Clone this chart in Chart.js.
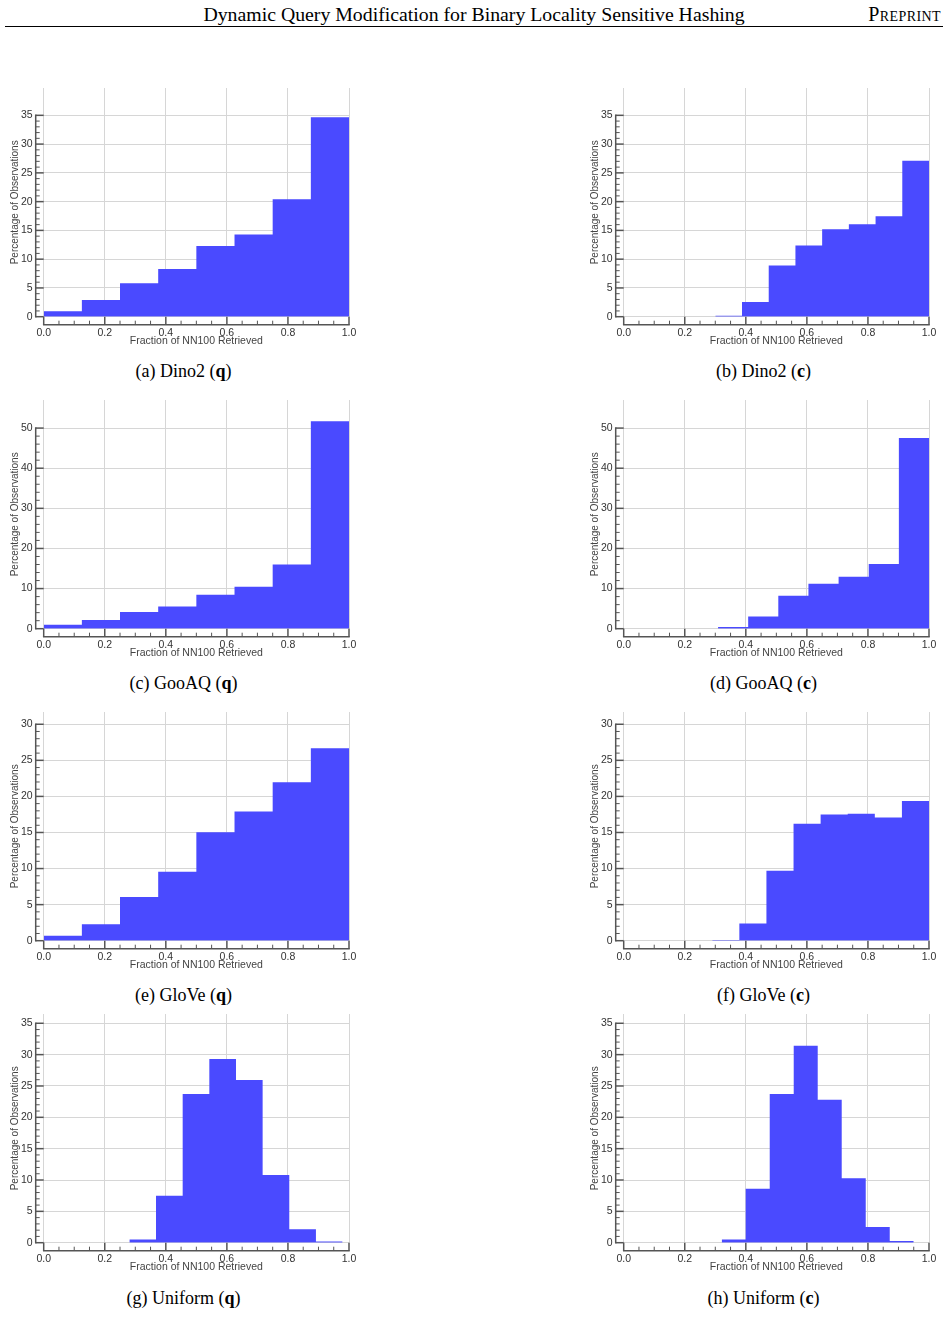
<!DOCTYPE html>
<html>
<head>
<meta charset="utf-8">
<script src="https://cdn.jsdelivr.net/npm/chart.js@4.4.1/dist/chart.umd.min.js"></script>
<style>
  body { margin: 0; background: #fff; }
  #page { position: relative; width: 948px; height: 1325px; overflow: hidden; }
  .hdr { position: absolute; top: 1px; left: 0; width: 948px; text-align: center;
         font-family: 'Liberation Serif', serif; font-size: 19.8px; line-height: 26px; color: #000; }
  .pre { position: absolute; top: 1px; right: 7px; font-family: 'Liberation Serif', serif;
         font-size: 20px; line-height: 26px; font-variant: small-caps; letter-spacing: 0.4px; }
  .rule { position: absolute; top: 26px; left: 5px; width: 938px; height: 1px; background: #000; }
  .cap { position: absolute; width: 360px; text-align: center; font-family: 'Liberation Serif', serif;
         font-size: 18px; line-height: 20px; color: #000; }
  canvas { position: absolute; }
</style>
</head>
<body>
<div id="page">
  <div class="hdr">Dynamic Query Modification for Binary Locality Sensitive Hashing</div>
  <div class="pre">Preprint</div>
  <div class="rule"></div>
</div>
<script>
// bin edges and percentages
const eighthEdges = [0, 0.125, 0.25, 0.375, 0.5, 0.625, 0.75, 0.875, 1.0];

const dino2QValues = [0.93, 2.9, 5.8, 8.3, 12.3, 14.3, 20.4, 34.65];
const dino2CEdges = [0.3, 0.3875, 0.475, 0.5625, 0.65, 0.7375, 0.825, 0.9125, 1.0];
const dino2CValues = [0.17, 2.55, 8.88, 12.36, 15.2, 16.08, 17.47, 27.1];

const gooaqQValues = [1.0, 2.16, 4.15, 5.56, 8.47, 10.47, 16.0, 51.7];
const gooaqCEdges = [0.309, 0.4077, 0.5064, 0.6051, 0.7039, 0.8026, 0.9013, 1.0];
const gooaqCValues = [0.4, 3.07, 8.22, 11.2, 12.96, 16.1, 47.5];

const gloveQValues = [0.69, 2.27, 6.06, 9.57, 15.03, 17.9, 21.96, 26.68];
const gloveCEdges = [0.29, 0.3788, 0.4675, 0.5563, 0.645, 0.7338, 0.8225, 0.9113, 1.0];
const gloveCValues = [0.09, 2.4, 9.7, 16.2, 17.5, 17.6, 17.06, 19.37];

const uniformQEdges = [0.2806, 0.3679, 0.4552, 0.5425, 0.6298, 0.7171, 0.8044, 0.8917, 0.979];
const uniformQValues = [0.53, 7.5, 23.7, 29.3, 25.96, 10.8, 2.13, 0.2];
const uniformCEdges = [0.321, 0.3996, 0.4783, 0.5569, 0.6355, 0.7141, 0.7928, 0.8714, 0.95];
const uniformCValues = [0.53, 8.6, 23.7, 31.4, 22.8, 10.27, 2.5, 0.27];

const xTicks = [0, 0.2, 0.4, 0.6, 0.8, 1.0];
const dinoTicks = [0, 5, 10, 15, 20, 25, 30, 35];
const gooaqTicks = [0, 10, 20, 30, 40, 50];
const gloveTicks = [0, 5, 10, 15, 20, 25, 30];
const uniformTicks = [0, 5, 10, 15, 20, 25, 30, 35];

const xTitle = 'Fraction of NN100 Retrieved';
const yTitle = 'Percentage of Observations';

const panels = [
  { cap: '(a) Dino2 (<b>q</b>)', edges: eighthEdges, values: dino2QValues, ticks: dinoTicks, yMax: 39.75, minor: 1, col: 0, row: 0 },
  { cap: '(b) Dino2 (<b>c</b>)', edges: dino2CEdges, values: dino2CValues, ticks: dinoTicks, yMax: 39.75, minor: 1, col: 1, row: 0 },
  { cap: '(c) GooAQ (<b>q</b>)', edges: eighthEdges, values: gooaqQValues, ticks: gooaqTicks, yMax: 57.0, minor: 2, col: 0, row: 1 },
  { cap: '(d) GooAQ (<b>c</b>)', edges: gooaqCEdges, values: gooaqCValues, ticks: gooaqTicks, yMax: 57.0, minor: 2, col: 1, row: 1 },
  { cap: '(e) GloVe (<b>q</b>)', edges: eighthEdges, values: gloveQValues, ticks: gloveTicks, yMax: 31.7, minor: 1, col: 0, row: 2 },
  { cap: '(f) GloVe (<b>c</b>)', edges: gloveCEdges, values: gloveCValues, ticks: gloveTicks, yMax: 31.7, minor: 1, col: 1, row: 2 },
  { cap: '(g) Uniform (<b>q</b>)', edges: uniformQEdges, values: uniformQValues, ticks: uniformTicks, yMax: 36.48, minor: 1, col: 0, row: 3 },
  { cap: '(h) Uniform (<b>c</b>)', edges: uniformCEdges, values: uniformCValues, ticks: uniformTicks, yMax: 36.48, minor: 1, col: 1, row: 3 }
];

// layout
const rowTops = [88, 399.6, 712, 1014];
const capY = [361, 673, 985, 1288];
const colLeft = [0, 580];
const axisOff = 8;
const fontFam = "'Liberation Sans', Arial, sans-serif";

// offset axis lines with inward major/minor ticks
const offsetAxes = {
  id: 'offsetAxes',
  afterDraw(chart, args, opts) {
    const { ctx, chartArea: a, scales: { x, y } } = chart;
    const y0 = y.getPixelForValue(0);
    const yTop = y.getPixelForValue(opts.top);
    const X0 = a.left - axisOff;
    const Y0 = a.bottom + axisOff;
    ctx.save();
    ctx.strokeStyle = '#555';
    ctx.lineCap = 'butt';
    ctx.lineWidth = 1.5;
    ctx.beginPath();
    ctx.moveTo(X0, y0 + 0.75); ctx.lineTo(X0, yTop - 0.75);
    ctx.moveTo(x.getPixelForValue(0) - 0.75, Y0); ctx.lineTo(x.getPixelForValue(1) + 0.75, Y0);
    ctx.stroke();
    // y ticks
    for (let v = 0; v <= opts.top + 1e-9; v += opts.minor) {
      const major = opts.ticks.some(t => Math.abs(t - v) < 1e-9);
      const py = y.getPixelForValue(v);
      ctx.lineWidth = major ? 1.5 : 1;
      ctx.beginPath();
      ctx.moveTo(X0, py); ctx.lineTo(X0 + (major ? axisOff : 4), py);
      ctx.stroke();
    }
    // x ticks
    for (let i = 0; i <= 20; i++) {
      const v = i / 20;
      const major = i % 4 === 0;
      const px = x.getPixelForValue(v);
      ctx.lineWidth = major ? 1.5 : 1;
      ctx.beginPath();
      ctx.moveTo(px, Y0); ctx.lineTo(px, Y0 - (major ? axisOff : 4));
      ctx.stroke();
    }
    ctx.restore();
  }
};

const page = document.getElementById('page');

panels.forEach(p => {
  const cv = document.createElement('canvas');
  cv.width = 360; cv.height = 270;
  cv.style.left = colLeft[p.col] + 'px';
  cv.style.top = (rowTops[p.row] - 10) + 'px';
  page.appendChild(cv);

  const cap = document.createElement('div');
  cap.className = 'cap';
  cap.innerHTML = p.cap;
  cap.style.left = (colLeft[p.col] + 3.5) + 'px';
  cap.style.top = capY[p.row] + 'px';
  page.appendChild(cap);

  const n = p.values.length;
  const pts = p.values.map((v, i) => ({ x: p.edges[i], y: v }));
  pts.push({ x: p.edges[n], y: p.values[n - 1] });

  new Chart(cv.getContext('2d'), {
    type: 'line',
    data: {
      datasets: [{
        data: pts,
        stepped: 'before',
        fill: 'origin',
        backgroundColor: 'rgb(74, 74, 255)',
        borderColor: 'rgba(0,0,0,0)',
        borderWidth: 1,
        pointRadius: 0
      }]
    },
    options: {
      responsive: false,
      animation: false,
      devicePixelRatio: 1,
      layout: { padding: { left: 0, right: 11, top: 10, bottom: 0.7 } },
      plugins: {
        legend: { display: false },
        tooltip: { enabled: false },
        offsetAxes: { top: p.ticks[p.ticks.length - 1], minor: p.minor, ticks: p.ticks }
      },
      scales: {
        x: {
          type: 'linear',
          min: 0, max: 1,
          afterBuildTicks: s => { s.ticks = xTicks.map(v => ({ value: v })); },
          afterFit: s => { s.height = 30.6; s.paddingLeft = 0; s.paddingRight = 0; },
          grid: { color: '#d6d6d6', lineWidth: 1, drawTicks: false },
          border: { display: false },
          ticks: {
            padding: 10.3, maxRotation: 0, autoSkip: false, color: '#333',
            font: { family: fontFam, size: 10.5 },
            callback: v => v.toFixed(1)
          },
          title: {
            display: true, text: xTitle, color: '#444',
            font: { family: fontFam, size: 10.5 }, padding: { top: 0, bottom: 0 }
          }
        },
        y: {
          min: 0, max: p.yMax,
          afterBuildTicks: s => { s.ticks = p.ticks.map(v => ({ value: v })); },
          afterFit: s => { s.width = 43.7; s.paddingTop = 0; s.paddingBottom = 0; },
          grid: { color: '#d6d6d6', lineWidth: 1, drawTicks: false },
          border: { display: false },
          ticks: {
            padding: 11, color: '#333',
            font: { family: fontFam, size: 10.5 }
          },
          title: {
            display: true, text: yTitle, color: '#444',
            font: { family: fontFam, size: 10 }, padding: { top: 9, bottom: 0 }
          }
        }
      }
    },
    plugins: [offsetAxes]
  });
});
</script>
</body>
</html>
